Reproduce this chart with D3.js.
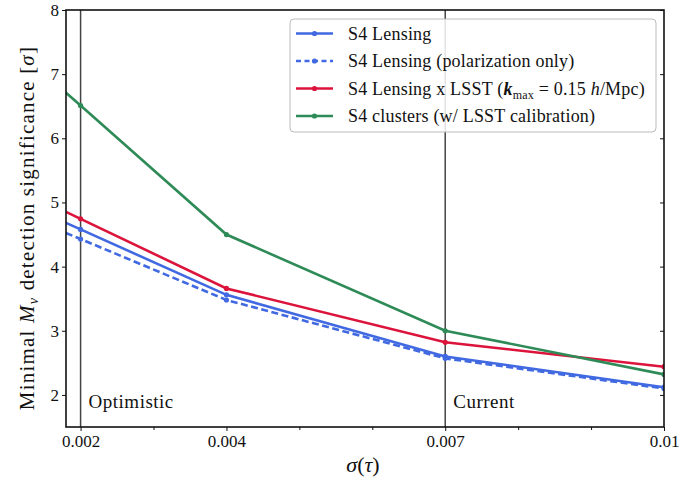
<!DOCTYPE html>
<html>
<head>
<meta charset="utf-8">
<script src="https://cdn.jsdelivr.net/npm/d3@7"></script>
<style>
  html, body { margin: 0; padding: 0; background: #fff; }
  text { font-family: "Liberation Serif", "Times New Roman", serif; fill: #111; }
</style>
</head>
<body>
<svg id="chart" width="688" height="480"></svg>
<script>
// sigma(tau) sample points
const sigmaTau = [0.001, 0.002, 0.004, 0.007, 0.01];
// detection significance of minimal M_nu, in sigma
const s4Lensing      = [5.09, 4.58, 3.56, 2.60, 2.12];
const s4LensingPol   = [4.90, 4.43, 3.48, 2.57, 2.10];
const s4LensingLSST  = [5.29, 4.745, 3.66, 2.82, 2.44];
const s4Clusters     = [7.51, 6.51, 4.50, 3.00, 2.32];

const xTickLabels = [0.002, 0.004, 0.007, 0.01];
const xMinorTicks = [0.003, 0.005, 0.006, 0.008, 0.009];
const yTickLabels = [2, 3, 4, 5, 6, 7, 8];
const markerLines = [0.002, 0.007];
const markerNames = ["Optimistic", "Current"];

const seriesNames = ["S4 Lensing", "S4 Lensing (polarization only)", "S4 Lensing x LSST", "S4 clusters (w/ LSST calibration)"];
const seriesColors = ["#4169e1", "#4169e1", "#dc143c", "#2e8b57"];
const seriesDash = [null, "7,3.5", null, null];

const series = [s4Lensing, s4LensingPol, s4LensingLSST, s4Clusters].map((vals, i) => ({
  name: seriesNames[i], color: seriesColors[i], dash: seriesDash[i],
  points: vals.map((v, j) => ({ x: sigmaTau[j], y: v }))
}));

const svg = d3.select("#chart");
const pL = 66, pR = 664, pT = 10, pB = 427;

const x = d3.scaleLinear().domain([0.0018, 0.01]).range([pL, pR]);
const y = d3.scaleLinear().domain([1.5, 8]).range([pB, pT]);

svg.append("defs").append("clipPath").attr("id", "plotclip")
  .append("rect").attr("x", pL).attr("y", pT).attr("width", pR - pL).attr("height", pB - pT);

const plot = svg.append("g").attr("clip-path", "url(#plotclip)");

// reference sigma(tau) levels
plot.selectAll("line.vref").data(markerLines).join("line")
  .attr("class", "vref")
  .attr("x1", d => x(d)).attr("x2", d => x(d))
  .attr("y1", pT).attr("y2", pB)
  .attr("stroke", "#444").attr("stroke-width", 1.5);

// series lines and markers
const line = d3.line().x(d => x(d.x)).y(d => y(d.y));
series.forEach(s => {
  plot.append("path").datum(s.points)
    .attr("d", line)
    .attr("fill", "none")
    .attr("stroke", s.color)
    .attr("stroke-width", 2.6)
    .attr("stroke-dasharray", s.dash);
  plot.selectAll(null).data(s.points).join("circle")
    .attr("cx", d => x(d.x)).attr("cy", d => y(d.y))
    .attr("r", 2.6).attr("fill", s.color);
});

// reference labels
svg.selectAll("text.vlabel").data(markerLines).join("text")
  .attr("class", "vlabel")
  .attr("x", d => x(d) + 8).attr("y", 408)
  .attr("font-size", 19).attr("letter-spacing", 0.5)
  .text((d, i) => markerNames[i]);

// axes
const xAxis = d3.axisBottom(x).tickValues(xTickLabels).tickFormat(d => String(d)).tickSize(4).tickPadding(4);
const gx = svg.append("g").attr("transform", `translate(0,${pB})`).call(xAxis);
gx.select(".domain").remove();
gx.selectAll("text").attr("font-size", 17).attr("font-family", "Liberation Serif, serif").attr("fill", "#111");
gx.selectAll("line").attr("stroke", "#111");

const xMinor = d3.axisBottom(x).tickValues(xMinorTicks).tickFormat("").tickSize(3);
const gxm = svg.append("g").attr("transform", `translate(0,${pB})`).call(xMinor);
gxm.select(".domain").remove();
gxm.selectAll("line").attr("stroke", "#111");

const yAxis = d3.axisLeft(y).tickValues(yTickLabels).tickFormat(d3.format("d")).tickSize(4).tickPadding(3);
const gy = svg.append("g").attr("transform", `translate(${pL},0)`).call(yAxis);
gy.select(".domain").remove();
gy.selectAll("text").attr("font-size", 17).attr("font-family", "Liberation Serif, serif").attr("fill", "#111");
gy.selectAll("line").attr("stroke", "#111");

const yRight = d3.axisLeft(y).tickValues(yTickLabels).tickFormat("").tickSize(4);
const gyr = svg.append("g").attr("transform", `translate(${pR},0)`).call(yRight);
gyr.select(".domain").remove();
gyr.selectAll("line").attr("stroke", "#111");

// frame
svg.append("rect").attr("x", pL).attr("y", pT).attr("width", pR - pL).attr("height", pB - pT)
  .attr("fill", "none").attr("stroke", "#111").attr("stroke-width", 1.6);

// axis titles
svg.append("text")
  .attr("x", 363).attr("y", 472)
  .attr("text-anchor", "middle").attr("font-size", 22)
  .html('<tspan font-style="italic">σ</tspan>(<tspan font-style="italic">τ</tspan>)');

svg.append("text")
  .attr("transform", "translate(34,228) rotate(-90)")
  .attr("text-anchor", "middle").attr("font-size", 21).attr("letter-spacing", 1.2)
  .html('Minimal <tspan font-style="italic">M</tspan><tspan font-style="italic" font-size="14" dy="4">ν</tspan><tspan dy="-4"> detection significance [</tspan><tspan font-style="italic">σ</tspan>]');

// legend
const lg = svg.append("g");
lg.append("rect").attr("x", 290).attr("y", 19).attr("width", 366).attr("height", 113)
  .attr("rx", 4).attr("fill", "#fff").attr("fill-opacity", 0.85)
  .attr("stroke", "#bbb").attr("stroke-width", 1);

const rowY = [33.5, 61, 88.5, 116];
series.forEach((s, i) => {
  const g = lg.append("g").attr("transform", `translate(0,${rowY[i]})`);
  g.append("line").attr("x1", 296).attr("x2", 333).attr("y1", 0).attr("y2", 0)
    .attr("stroke", s.color).attr("stroke-width", 2.6).attr("stroke-dasharray", s.dash ? "5,3.5" : null);
  g.append("circle").attr("cx", 314.5).attr("cy", 0).attr("r", 2.6).attr("fill", s.color);
  const t = g.append("text").attr("x", 348).attr("y", 6).attr("font-size", 18).attr("letter-spacing", 0.2);
  if (i === 2) {
    t.html('S4 Lensing x LSST (<tspan font-style="italic" font-weight="bold">k</tspan><tspan font-size="12" dy="4">max</tspan><tspan dy="-4"> = 0.15 </tspan><tspan font-style="italic">h</tspan>/Mpc)');
  } else {
    t.text(s.name);
  }
});
</script>
</body>
</html>
